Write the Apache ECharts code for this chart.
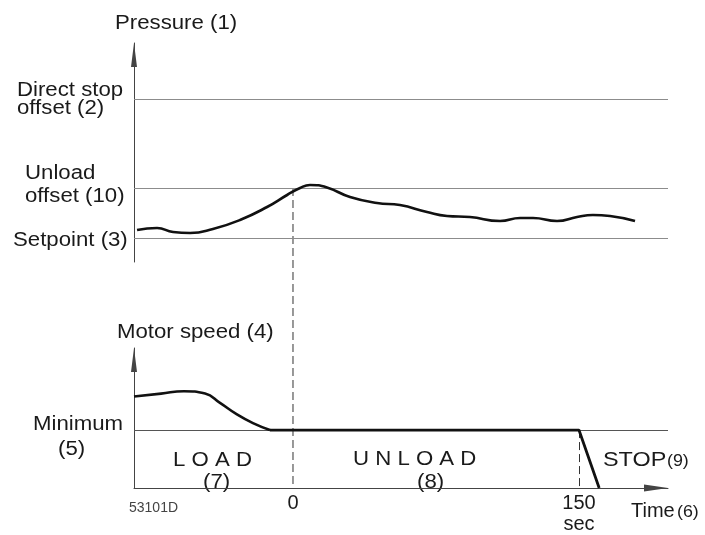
<!DOCTYPE html>
<html><head><meta charset="utf-8">
<script src="https://cdn.jsdelivr.net/npm/echarts@6/dist/echarts.min.js"></script>
<style>html,body{margin:0;padding:0;background:#fff}#c{width:705px;height:535px}</style>
</head><body><div id="c"></div>
<script>
// ---- data (time in seconds; pressure relative: setpoint=0, unload offset=1; speed relative: minimum=1) ----
const pressureTime  = [-81.8,-71.3,-62.9,-54.0,-42.0,-27.8,-13.6,-3.1,3.7,8.9,17.8,29.9,44.1,56.1,70.3,80.8,92.8,108.6,119.1,125.9,138.5,149.0,157.3,166.3,179.4];
const pressureValue = [0.16,0.20,0.12,0.10,0.18,0.36,0.62,0.86,1.00,1.06,1.01,0.82,0.70,0.66,0.52,0.44,0.42,0.34,0.40,0.40,0.34,0.42,0.46,0.44,0.34];
const speedCurveTime  = [-83.4,-69.2,-57.2,-46.1,-38.3,-29.4,-21.0,-12.1];
const speedCurveValue = [1.58,1.63,1.67,1.63,1.47,1.27,1.12,1.0];
const speedFlatTime   = [-12.1,150,160.6];
const speedFlatValue  = [1.0,1.0,0];
const setpointLevel = 0, unloadLevel = 1, directStopLevel = 2.78;
const minimumSpeed = 1;
const timeTicks = [0,150];
const stopTime = 150;

const xMin = -83.4, xMax = 196.7;
const FF = '"Liberation Sans", Arial, sans-serif';
function txt(id, s, x, y, size, sx) {
  return {
    type:'text', id:id, x:x, y:y, scaleX:(sx||1.11), silent:true,
    style:{text:s, font:(size||20)+'px '+FF, fill:'#1a1a1a', align:'left', verticalAlign:'middle', textAlign:'left', textVerticalAlign:'middle'}
  };
}
const texts = [
  txt('t1','Pressure (1)',115,23),
  txt('t2','Direct stop',17,90),
  txt('t3','offset (2)',17,108),
  txt('t4','Unload',25,173),
  txt('t5','offset (10)',25,196),
  txt('t6','Setpoint (3)',13,240),
  txt('t7','Motor speed (4)',117,332),
  txt('t8','Minimum',33,424),
  txt('t9','(5)',58,449),
  txt('t10','L O A D',173,460),
  txt('t11','(7)',203,482),
  txt('t12','U N L O A D',353,459),
  txt('t13','(8)',417,482),
  txt('t14','STOP',603,460,20,1.17),
  txt('t14b','(9)',667,461,17,1.05),
  txt('t15','Time',631,511,20,1.0),
  txt('t15b','(6)',677,512,17,1.05),
  {type:'text', id:'t16', x:129, y:508, silent:true, style:{text:'53101D', font:'14px '+FF, fill:'#444', align:'left', verticalAlign:'middle', textAlign:'left', textVerticalAlign:'middle'}}
];

const chart = echarts.init(document.getElementById('c'), null, {renderer:'canvas'});
const axisGray = '#444';
const option = {
  animation:false,
  backgroundColor:'#fff',
  grid:[
    {left:134, right:37, top:43, height:219},
    {left:134, right:37, top:348, height:145}
  ],
  xAxis:[
    {gridIndex:0, type:'value', min:xMin, max:xMax, show:false},
    {gridIndex:1, type:'value', min:xMin, max:xMax,
     axisLine:{show:true, onZero:false, symbol:['none','triangle'], symbolSize:[7,24], symbolOffset:[0,-12], lineStyle:{color:axisGray, width:1}},
     axisTick:{show:false}, splitLine:{show:false},
     axisLabel:{show:true, customValues:timeTicks, margin:5, color:'#1a1a1a', fontSize:20, lineHeight:21,
       fontFamily:FF,
       formatter:function(v){ return v===150 ? '150\nsec' : String(v); }}
    }
  ],
  yAxis:[
    {gridIndex:0, type:'value', min:-0.48, max:3.9,
     axisLine:{show:true, onZero:false, symbol:['none','triangle'], symbolSize:[6,24], symbolOffset:[0,-12], lineStyle:{color:axisGray, width:1}},
     axisTick:{show:false}, axisLabel:{show:false}, splitLine:{show:false}},
    {gridIndex:1, type:'value', min:0, max:2.417,
     axisLine:{show:true, onZero:false, symbol:['none','triangle'], symbolSize:[6,24], symbolOffset:[0,-12], lineStyle:{color:axisGray, width:1}},
     axisTick:{show:false}, axisLabel:{show:false}, splitLine:{show:false}}
  ],
  series:[
    {type:'line', xAxisIndex:0, yAxisIndex:0, showSymbol:false, smooth:0.5,
     data:pressureTime.map((t,i)=>[t,pressureValue[i]]),
     lineStyle:{color:'#111', width:2.6}, z:5,
     markLine:{silent:true, symbol:'none', label:{show:false}, lineStyle:{color:'#8c8c8c', width:1, type:'solid'},
       data:[{yAxis:setpointLevel},{yAxis:unloadLevel},{yAxis:directStopLevel}]}
    },
    {type:'line', xAxisIndex:1, yAxisIndex:1, showSymbol:false, smooth:0.5,
     data:speedCurveTime.map((t,i)=>[t,speedCurveValue[i]]),
     lineStyle:{color:'#111', width:2.6}, z:5,
     markLine:{silent:true, symbol:'none', label:{show:false}, lineStyle:{color:'#555', width:1, type:'solid'},
       data:[{yAxis:minimumSpeed}]}
    },
    {type:'line', xAxisIndex:1, yAxisIndex:1, showSymbol:false,
     data:speedFlatTime.map((t,i)=>[t,speedFlatValue[i]]),
     lineStyle:{color:'#111', width:2.8}, z:5,
     markLine:{silent:true, symbol:'none', label:{show:false}, lineStyle:{color:'#333', width:1, type:[8,4]},
       data:[[{coord:[stopTime,minimumSpeed]},{coord:[stopTime,0]}]]}
    }
  ],
  graphic:{elements:texts}
};
chart.setOption(option);
const p1 = chart.convertToPixel({xAxisIndex:0, yAxisIndex:0}, [0, unloadLevel]);
const p2 = chart.convertToPixel({xAxisIndex:1, yAxisIndex:1}, [0, 0]);
option.graphic = {elements: texts.concat([
  {type:'line', id:'dash0', silent:true, shape:{x1:p1[0], y1:p1[1], x2:p2[0], y2:p2[1]},
   style:{stroke:'#333', lineWidth:1, lineDash:[8,4]}, z:1}
])};
chart.setOption(option, true);
</script>
</body></html>
